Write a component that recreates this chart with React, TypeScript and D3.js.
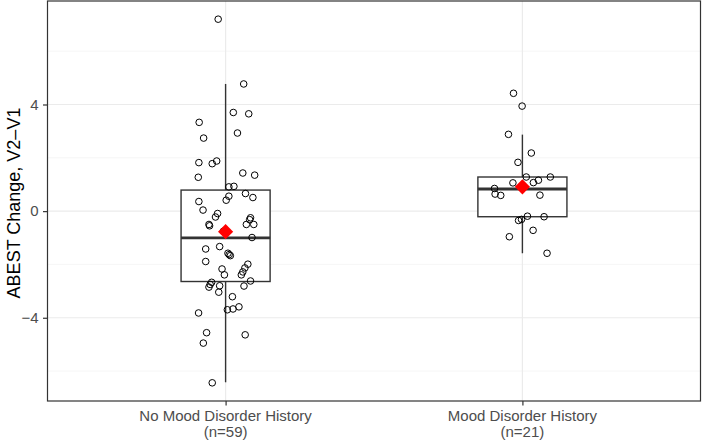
import React, { useEffect, useRef } from "react";
import * as d3 from "d3";

// categories and labels
const groups = ["No Mood Disorder History", "Mood Disorder History"];
const groupCounts = ["(n=59)", "(n=21)"];

// boxplot summaries: [lowerWhisker, q1, median, q3, upperWhisker]
const boxStats = [
  [-6.42, -2.64, -1.0, 0.79, 4.77],
  [-1.58, -0.21, 0.83, 1.28, 2.87],
];
const groupMeans = [-0.77, 0.91];

// jittered points: value and horizontal jitter (in category units)
const noMoodValues = [
  7.2, 4.77, 3.7, 3.65, 3.33, 2.74, 2.93, 1.82, 1.78, 1.88, 1.27, 1.43, 1.35, 0.91, 0.93,
  0.66, 0.51, 0.36, 0.04, 0.56, 0.41, -0.09, -0.22, -0.5, -0.55, -0.25, -0.32, -0.5, -0.5,
  -0.99, -1.42, -1.33, -1.58, -1.67, -1.89, -1.99, -2.13, -2.28, -2.39, -2.17, -2.39, -2.67,
  -2.75, -2.85, -2.8, -3.04, -2.62, -2.81, -3.21, -3.7, -3.67, -3.59, -3.82, -4.56, -4.95,
  -4.64, -6.44, -1.63, -0.75,
];
const noMoodJitter = [
  -0.025, 0.061, 0.026, 0.078, -0.089, -0.074, 0.04, -0.09, -0.045, -0.03, -0.092, 0.058,
  0.098, 0.011, 0.028, 0.067, 0.092, -0.09, -0.076, 0.011, 0.002, -0.027, -0.034, -0.056,
  -0.054, 0.084, 0.081, 0.07, 0.095, 0.089, -0.067, -0.02, 0.008, 0.016, -0.067, 0.075,
  0.065, 0.058, 0.053, -0.012, -0.004, -0.047, -0.052, -0.056, -0.02, -0.023, 0.084, 0.062,
  0.023, 0.006, 0.025, 0.045, -0.091, -0.064, -0.075, 0.066, -0.045, 0.012, -0.007,
];
const moodValues = [
  4.42, 3.94, 2.88, 2.18, 1.83, 1.28, 1.16, 1.07, 1.28, 1.06, 0.85, 0.64, 0.59, 0.6, -0.19,
  -0.21, -0.35, -0.31, -0.72, -0.96, -1.58,
];
const moodJitter = [
  -0.03, -0.001, -0.047, 0.03, -0.015, 0.013, 0.054, 0.037, 0.094, -0.032, -0.094, -0.092,
  -0.073, 0.059, 0.017, 0.073, -0.013, -0.003, 0.036, -0.044, 0.083,
];

const majorTicks = [-4, 0, 4];
const minorTicks = [-6, -2, 2, 6];

const W = 702;
const H = 440;
const FONT = "'Liberation Sans', Arial, sans-serif";

const App: React.FC = () => {
  const svgRef = useRef<SVGSVGElement>(null);

  useEffect(() => {
    const svg = d3.select(svgRef.current);
    svg.selectAll("*").remove();

    const panel = { left: 47.5, right: 700.5, top: 1, bottom: 401 };

    // y range with ggplot's 5% expansion
    const allVals = [...noMoodValues, ...moodValues];
    const lo = d3.min(allVals) as number;
    const hi = d3.max(allVals) as number;
    const pad = (hi - lo) * 0.05;
    const y = d3.scaleLinear().domain([lo - pad, hi + pad]).range([panel.bottom, panel.top]);
    const x = d3.scalePoint<string>().domain(groups).range([panel.left, panel.right]).padding(0.6);
    const step = x.step();

    // panel background
    svg.append("rect")
      .attr("x", panel.left).attr("y", panel.top)
      .attr("width", panel.right - panel.left).attr("height", panel.bottom - panel.top)
      .attr("fill", "white");

    // grid
    const grid = svg.append("g");
    grid.selectAll(".minor").data(minorTicks).enter().append("line")
      .attr("x1", panel.left).attr("x2", panel.right)
      .attr("y1", (d) => y(d)).attr("y2", (d) => y(d))
      .attr("stroke", "#f2f2f2").attr("stroke-width", 0.7);
    grid.selectAll(".major").data(majorTicks).enter().append("line")
      .attr("x1", panel.left).attr("x2", panel.right)
      .attr("y1", (d) => y(d)).attr("y2", (d) => y(d))
      .attr("stroke", "#ebebeb").attr("stroke-width", 1.2);
    grid.selectAll(".vmajor").data(groups).enter().append("line")
      .attr("x1", (d) => x(d)!).attr("x2", (d) => x(d)!)
      .attr("y1", panel.top).attr("y2", panel.bottom)
      .attr("stroke", "#ebebeb").attr("stroke-width", 1.2);

    // boxplots
    const boxW = step * 0.3;
    const boxes = svg.append("g");
    groups.forEach((g, i) => {
      const cx = x(g)!;
      const [wl, q1, med, q3, wh] = boxStats[i];
      boxes.append("line").attr("x1", cx).attr("x2", cx)
        .attr("y1", y(q3)).attr("y2", y(wh))
        .attr("stroke", "#333333").attr("stroke-width", 1.4);
      boxes.append("line").attr("x1", cx).attr("x2", cx)
        .attr("y1", y(q1)).attr("y2", y(wl))
        .attr("stroke", "#333333").attr("stroke-width", 1.4);
      boxes.append("rect")
        .attr("x", cx - boxW / 2).attr("y", y(q3))
        .attr("width", boxW).attr("height", y(q1) - y(q3))
        .attr("fill", "white").attr("stroke", "#333333").attr("stroke-width", 1.4);
      boxes.append("line")
        .attr("x1", cx - boxW / 2).attr("x2", cx + boxW / 2)
        .attr("y1", y(med)).attr("y2", y(med))
        .attr("stroke", "#333333").attr("stroke-width", 2.8);
    });

    // jittered points
    const pts = [
      ...noMoodValues.map((v, i) => ({ g: groups[0], v, j: noMoodJitter[i] })),
      ...moodValues.map((v, i) => ({ g: groups[1], v, j: moodJitter[i] })),
    ];
    svg.append("g").selectAll("circle").data(pts).enter().append("circle")
      .attr("cx", (d) => x(d.g)! + d.j * step)
      .attr("cy", (d) => y(d.v))
      .attr("r", 3.3)
      .attr("fill", "none").attr("stroke", "black").attr("stroke-width", 1);

    // mean diamonds
    const diamond = d3.symbol().type(d3.symbolSquare).size(115);
    svg.append("g").selectAll("path").data(groupMeans).enter().append("path")
      .attr("d", diamond()!)
      .attr("transform", (d, i) => `translate(${x(groups[i])},${y(d)}) rotate(45)`)
      .attr("fill", "red");

    // panel border
    svg.append("rect")
      .attr("x", panel.left).attr("y", panel.top)
      .attr("width", panel.right - panel.left).attr("height", panel.bottom - panel.top)
      .attr("fill", "none").attr("stroke", "#333333").attr("stroke-width", 1.2);

    // y axis
    const yAxis = svg.append("g")
      .attr("transform", `translate(${panel.left},0)`)
      .call(d3.axisLeft(y).tickValues(majorTicks).tickSize(4.5).tickPadding(4.5));
    yAxis.select(".domain").remove();
    yAxis.selectAll("line").attr("stroke", "#333333").attr("stroke-width", 1.2);
    yAxis.selectAll("text")
      .attr("fill", "#4d4d4d").style("font-size", "15px").style("font-family", FONT);

    // x axis
    const xAxis = svg.append("g")
      .attr("transform", `translate(0,${panel.bottom})`)
      .call(d3.axisBottom(x).tickSize(4.5).tickFormat(() => ""));
    xAxis.select(".domain").remove();
    xAxis.selectAll("line").attr("stroke", "#333333").attr("stroke-width", 1.2);

    // two-line category labels
    const xl = svg.append("g")
      .attr("fill", "#4d4d4d").style("font-size", "15px").style("font-family", FONT)
      .attr("text-anchor", "middle");
    groups.forEach((g, i) => {
      xl.append("text").attr("x", x(g)!).attr("y", 421).text(g);
      xl.append("text").attr("x", x(g)!).attr("y", 436.5).text(groupCounts[i]);
    });

    // y title
    svg.append("text")
      .attr("transform", `translate(20,${(panel.top + panel.bottom) / 2 + 2}) rotate(-90)`)
      .attr("text-anchor", "middle")
      .attr("fill", "black").style("font-size", "18px").style("font-family", FONT)
      .text("ABEST Change, V2\u2013V1");
  }, []);

  return (
    <svg
      ref={svgRef}
      width={W}
      height={H}
      style={{ position: "absolute", left: 0, top: 0, background: "white" }}
    ></svg>
  );
};

export default App;
